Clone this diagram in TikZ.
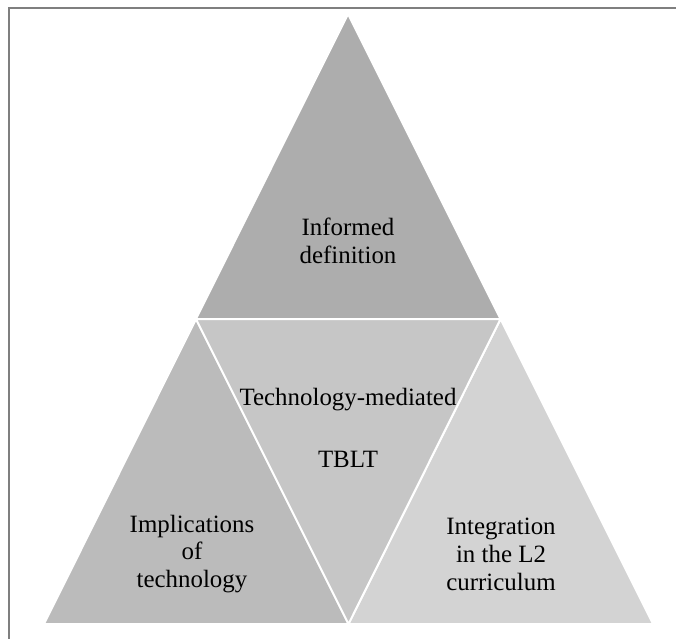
\documentclass[tikz,border=0pt]{standalone}
\usepackage{fontspec}
\setmainfont{Liberation Serif}
\usetikzlibrary{calc}
\definecolor{framegray}{HTML}{7F7F7F}
\definecolor{topgray}{HTML}{ADADAD}
\definecolor{leftgray}{HTML}{BBBBBB}
\definecolor{midgray}{HTML}{C6C6C6}
\definecolor{rightgray}{HTML}{D3D3D3}
\tikzset{
  part/.style={draw=white,line width=2bp,line join=round},
  txt/.style={font=\fontsize{25}{28}\selectfont,align=center,inner sep=0pt}
}

\begin{document}
\begin{tikzpicture}[x=1bp,y=-1bp]
  \useasboundingbox (0,0) rectangle (676,639);
  \clip (0,0) rectangle (676,639);
  % frame (runs off the page at right and bottom)
  \draw[framegray,line width=2bp] (8.5,8.5) rectangle (720,720);

  % corners of the big triangle and the midpoints of its sides
  \coordinate (top) at (348,14);
  \coordinate (bl) at (44,624);
  \coordinate (br) at (653,624);
  \coordinate (ml) at ($(top)!0.5!(bl)$);
  \coordinate (mr) at ($(top)!0.5!(br)$);
  \coordinate (mb) at ($(bl)!0.5!(br)$);

  \filldraw[part,fill=topgray] (top) -- (ml) -- (mr) -- cycle;
  \filldraw[part,fill=leftgray] (ml) -- (bl) -- (mb) -- cycle;
  \filldraw[part,fill=rightgray] (mr) -- (mb) -- (br) -- cycle;
  \filldraw[part,fill=midgray] (ml) -- (mr) -- (mb) -- cycle;

  \node[txt] (defn) at (348,241) {Informed\\definition};
  \node[txt,anchor=base] (tech) at (348,405) {Technology-mediated};
  \node[txt,anchor=base] (tblt) at (348,467) {TBLT};
  \node[txt] (impl) at (192,554) {Implications\\of\\technology};
  \node[txt] (integ) at (501,554) {Integration\\in the L2\\curriculum};
\end{tikzpicture}
\end{document}
